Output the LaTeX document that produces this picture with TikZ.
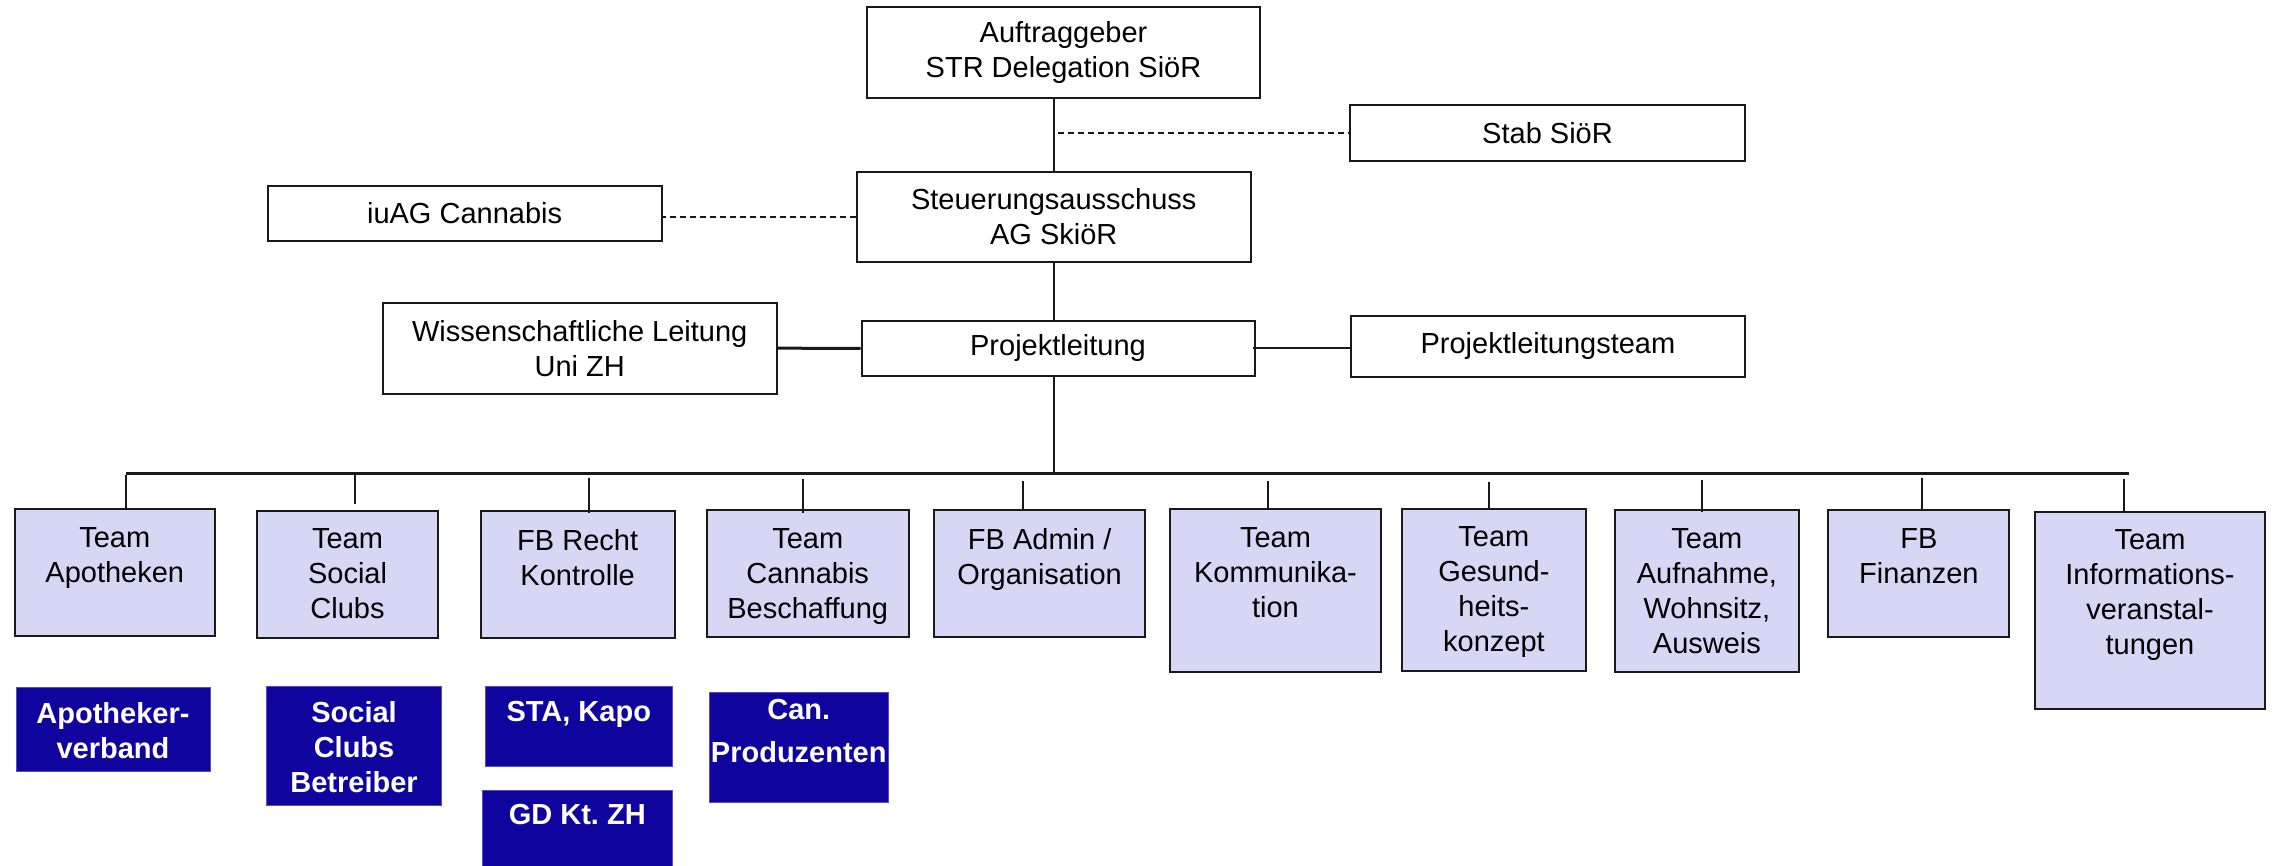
\documentclass[tikz,border=0pt]{standalone}
\usepackage{fontspec}
\setmainfont{Liberation Sans}
\definecolor{lav}{RGB}{214,214,245}
\definecolor{navyb}{RGB}{16,4,158}
\definecolor{edge}{RGB}{25,25,25}
\tikzset{
  base/.style={inner sep=0pt, align=center, font={\fontsize{29}{35}\selectfont}},
  wbox/.style={base, draw=edge, line width=2pt, fill=white},
  tbox/.style={base, draw=edge, line width=2pt, fill=lav},
  dbox/.style={base, fill=navyb, draw=navyb!70!white, line width=1pt},
  ttext/.style={base, anchor=north, text=black},
  dtext/.style={base, anchor=north, text=white, font={\fontsize{29}{35}\selectfont\bfseries}},
  ctext/.style={base, anchor=north, text=white, font={\fontsize{29}{43}\selectfont\bfseries}},
  conn/.style={line width=2pt, draw=edge},
  bus/.style={line width=3pt, draw=edge},
  dconn/.style={line width=1.8pt, draw=edge, dash pattern=on 6pt off 4pt},
}
\begin{document}
\begin{tikzpicture}[x=1pt,y=-1pt]
\useasboundingbox (0,0) rectangle (2276,865);

% top level boxes
\node[wbox, minimum width=393pt, minimum height=91pt] (auf) at (1063.5,52.8) {Auftraggeber\\STR Delegation SiöR};
\node[wbox, minimum width=395pt, minimum height=55.7pt] (stab) at (1547.5,132.9) {Stab SiöR};
\node[wbox, minimum width=394.5pt, minimum height=90.3pt] (steu) at (1053.75,216.85) {Steuerungsausschuss\\AG SkiöR};
\node[wbox, minimum width=394pt, minimum height=55pt] (iuag) at (464.6,213.2) {iuAG Cannabis};
\node[wbox, minimum width=393pt, minimum height=55.3pt] (proj) at (1058,348.35) {Projektleitung};
\node[wbox, minimum width=393.5pt, minimum height=91pt] (wiss) at (579.75,348.2) {Wissenschaftliche Leitung\\Uni ZH};
\node[wbox, minimum width=394pt, minimum height=61pt] (plt) at (1547.9,346.2) {Projektleitungsteam};

% spine and bus
\coordinate (spine) at (1053.5,0);
\coordinate (busl) at (125.8,473.5);
\coordinate (busr) at (2129,473.5);

\draw[conn] (auf.south -| spine) -- (steu.north -| spine);
\draw[dconn] ([xshift=4pt]spine |- stab.west) -- (stab.west);
\draw[dconn] (steu.west) -- (steu.west -| iuag.east);
\draw[conn] (steu.south -| spine) -- (proj.north -| spine);
\draw[line width=3pt, draw=edge] (wiss.east) -- (proj.west);
\draw[conn] ([xshift=-3pt]proj.east) -- (proj.east -| plt.west);
\draw[conn] (proj.south -| spine) -- (busl -| spine);

% team boxes
\node[tbox, minimum width=200.5pt, minimum height=126.4pt] (ta) at (114.75,572.5) {};
\node[tbox, minimum width=181.7pt, minimum height=127pt] (tsc) at (347.55,574.2) {};
\node[tbox, minimum width=194.1pt, minimum height=126.7pt] (fbr) at (577.65,574.35) {};
\node[tbox, minimum width=202.1pt, minimum height=127pt] (tcb) at (807.75,573.5) {};
\node[tbox, minimum width=210.7pt, minimum height=127pt] (fba) at (1039.65,573.5) {};
\node[tbox, minimum width=210.1pt, minimum height=162.4pt] (tko) at (1275.45,590.5) {};
\node[tbox, minimum width=184.8pt, minimum height=162pt] (tge) at (1493.9,589.7) {};
\node[tbox, minimum width=184.8pt, minimum height=162pt] (tau) at (1706.9,591) {};
\node[tbox, minimum width=181.1pt, minimum height=126.7pt] (fbf) at (1918.85,573.35) {};
\node[tbox, minimum width=230pt, minimum height=197.3pt] (tin) at (2150,610.35) {};

\node[ttext] (taL) at ([yshift=-19pt]ta.north) {Team\\Apotheken};
\node[ttext] (tscL) at ([yshift=-19pt]tsc.north) {Team\\Social\\Clubs};
\node[ttext] (fbrL) at ([yshift=-19pt]fbr.north) {FB Recht\\Kontrolle};
\node[ttext] (tcbL) at ([yshift=-19pt]tcb.north) {Team\\Cannabis\\Beschaffung};
\node[ttext] (fbaL) at ([yshift=-19pt]fba.north) {FB Admin /\\Organisation};
\node[ttext] (tkoL) at ([yshift=-19pt]tko.north) {Team\\Kommunika-\\tion};
\node[ttext] (tgeL) at ([yshift=-19pt]tge.north) {Team\\Gesund-\\heits-\\konzept};
\node[ttext] (tauL) at ([yshift=-19pt]tau.north) {Team\\Aufnahme,\\Wohnsitz,\\Ausweis};
\node[ttext] (fbfL) at ([yshift=-19pt]fbf.north) {FB\\Finanzen};
\node[ttext] (tinL) at ([yshift=-19pt]tin.north) {Team\\Informations-\\veranstal-\\tungen};

% bus and stubs
\draw[bus] (busl) -- (busr);
\draw[conn] ([yshift=-1pt]busl) -- (ta.north -| busl);
\coordinate (s2) at (354.8,474);
\coordinate (s3) at (589,478.3);
\coordinate (s4) at (802.7,478.7);
\coordinate (s5) at (1023,481);
\coordinate (s6) at (1268.2,481.3);
\coordinate (s7) at (1488.5,482);
\coordinate (s8) at (1701.5,480.3);
\coordinate (s9) at (1921.7,478.3);
\coordinate (s10) at (2123.5,479);
\draw[conn] (s2) -- ([yshift=6pt]tsc.north -| s2);
\draw[conn] (s3) -- ([yshift=-3pt]fbr.north -| s3);
\draw[conn] (s4) -- ([yshift=-4pt]tcb.north -| s4);
\draw[conn] (s5) -- (fba.north -| s5);
\draw[conn] (s6) -- (tko.north -| s6);
\draw[conn] (s7) -- (tge.north -| s7);
\draw[conn] (s8) -- ([yshift=-3pt]tau.north -| s8);
\draw[conn] (s9) -- (fbf.north -| s9);
\draw[conn] (s10) -- (tin.north -| s10);

% dark boxes
\node[dbox, minimum width=194pt, minimum height=83.7pt] (apv) at (113,729.15) {};
\node[dbox, minimum width=174.5pt, minimum height=119pt] (scb) at (354.05,746.2) {};
\node[dbox, minimum width=187.5pt, minimum height=79.3pt] (sta) at (578.75,726.35) {};
\node[dbox, minimum width=190.5pt, minimum height=76pt] (gd) at (577.25,828) {};
\node[dbox, minimum width=179.5pt, minimum height=110.4pt] (canp) at (798.75,747.5) {};

\node[dtext] (apvL) at ([yshift=-15pt]apv.north) {Apotheker-\\verband};
\node[dtext] (scbL) at ([yshift=-15pt]scb.north) {Social\\Clubs\\Betreiber};
\node[dtext] (staL) at ([yshift=-15pt]sta.north) {STA, Kapo};
\node[dtext] (gdL) at ([yshift=-15pt]gd.north) {GD Kt.\ ZH};
\node[ctext] (canpL) at ([yshift=-7pt]canp.north) {Can.\\Produzenten};
\end{tikzpicture}
\end{document}
